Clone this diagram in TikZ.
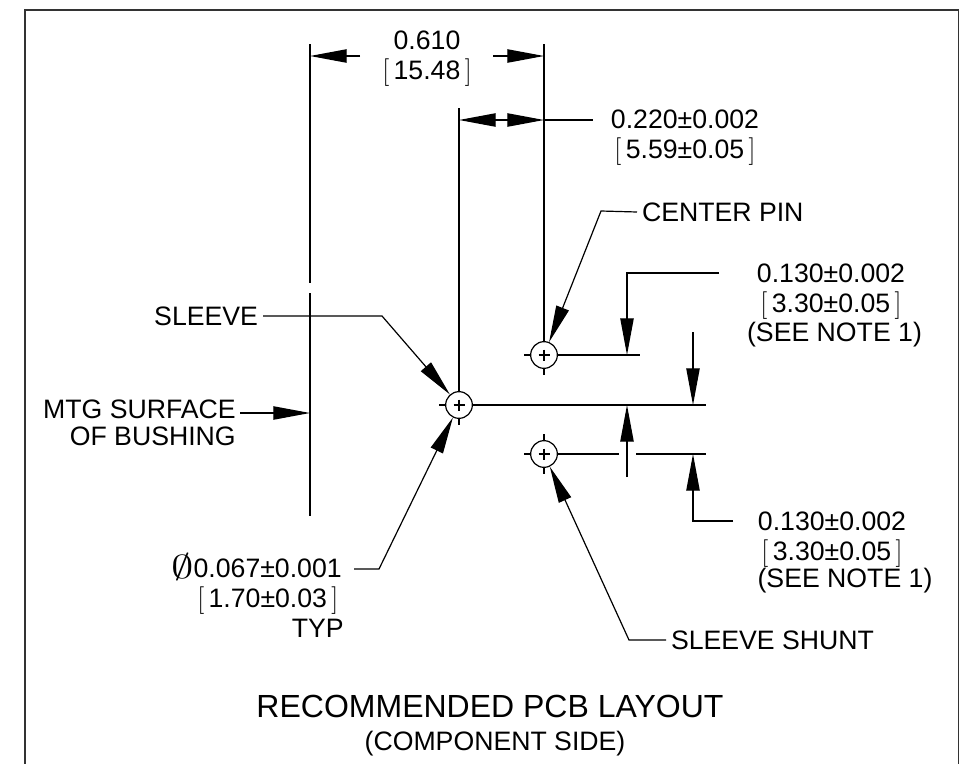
\documentclass[tikz,border=0pt]{standalone}
\usepackage{fontspec}
\setmainfont{Liberation Sans}
\usetikzlibrary{arrows.meta}
\tikzset{
	dimtext/.style={inner sep=0pt,align=center,font=\fontsize{20}{22.5}\selectfont},
	leadertext/.style={dimtext,outer xsep=3.75pt},
	thinline/.style={line width=0.9pt},
	thickline/.style={line width=1.9pt},
	hole/.style={draw,circle,line width=0.9pt,minimum size=20pt,inner sep=0pt,fill=white},
	dimtip/.tip={Triangle[length=27.5pt,width=10pt]}
}
\newcommand{\brk}[1]{$[$\,#1\,$]$}
\newcommand{\dia}{\smash{\raisebox{-1pt}{\scalebox{1.35}[1]{\fontsize{26}{26}\selectfont$\emptyset$}}}}
\begin{document}
\begin{tikzpicture}[x=0.75pt,y=-0.75pt]
\useasboundingbox (0,0) rectangle (961,764);
% frame
\coordinate (fbl) at (25,764);
\coordinate (ftl) at (25,10);
\coordinate (ftr) at (958.5,10);
\coordinate (fbr) at (958.5,764);
\draw[line width=1.2pt,black!80] (fbl)--(ftl)--(ftr)--(fbr);
% reference points
\coordinate (extA) at (310,44);
\coordinate (extAb) at (310,283);
\coordinate (surfT) at (310,293);
\coordinate (surfB) at (310,516);
\coordinate (extB) at (544,44);
\coordinate (extBm) at (544,108);
\coordinate (extC) at (459,108);
% holes
\node[hole] (pinhole) at (544,355) {};
\node[hole] (sleevehole) at (459,405) {};
\node[hole] (shunthole) at (544,454) {};
\foreach \h in {pinhole,sleevehole,shunthole}{
	\draw[thinline] (\h.center)+(-5.5,0)--+(5.5,0) (\h.center)+(0,-5.5)--+(0,5.5);
	\draw[thinline] (\h.west)+(-6,0)--(\h.west) (\h.east)--+(6,0);
	\draw[thinline] (\h.north)+(0,-6)--(\h.north) (\h.south)--+(0,6);
}
% texts
\node[dimtext] (overall) at (427,59) {0.610\\\brk{15.48}};
\node[dimtext] (pinoffset) at (685,138) {0.220±0.002\\\brk{5.59±0.05}};
\node[leadertext,anchor=west] (pinlabel) at (637,212) {CENTER PIN};
\node[dimtext] (upperdim) at (831,292) {0.130±0.002\\\brk{3.30±0.05}};
\node[dimtext] (uppernote) at (834.5,335) {(SEE NOTE 1)};
\node[dimtext] (lowerdim) at (832,540) {0.130±0.002\\\brk{3.30±0.05}};
\node[dimtext] (lowernote) at (845,581) {(SEE NOTE 1)};
\node[leadertext,anchor=east] (sleevelabel) at (263,316) {SLEEVE};
\node[dimtext,anchor=east,align=right,font=\fontsize{20}{20.6}\selectfont] (mtglabel) at (236,423) {MTG SURFACE\\OF BUSHING};
\node[dimtext,anchor=east,align=right] (dialabel) at (344,598) {\dia0.067±0.001\kern1.5pt\\\brk{1.70±0.03}\kern4pt\\TYP};
\node[leadertext,anchor=west] (shuntlabel) at (666,640) {SLEEVE SHUNT};
\node[dimtext,font=\fontsize{24}{28}\selectfont] (title) at (490,706.5) {RECOMMENDED PCB LAYOUT};
\node[dimtext] (subtitle) at (495,744) {(COMPONENT SIDE)};
% extension lines
\draw[thinline] (extA)--(extAb);
\draw[thickline] (surfT)--(surfB);
\draw[thinline] (extB)--(extBm);
\draw[thickline] (extBm)--(pinhole.north);
\draw[thinline] (extC)--(sleevehole.north);
% horizontal lines from the holes
\coordinate (pinend) at (640,355);
\coordinate (sleevemid) at (640,405);
\coordinate (sleeveend) at (706,405);
\coordinate (shuntgapa) at (619,454);
\coordinate (shuntgapb) at (636,454);
\coordinate (shuntend) at (706,454);
\draw[thinline] (pinhole.east)--(pinend);
\draw[thickline] (sleevehole.east)--(sleevemid);
\draw[thinline] (sleevemid)--(sleeveend);
\draw[thinline] (shunthole.east)--(shuntgapa) (shuntgapb)--(shuntend);
% 0.610
\coordinate (oa) at (310,56);
\coordinate (oat) at (360,56);
\coordinate (ob) at (544,56);
\coordinate (obt) at (493,56);
\draw[thinline,-dimtip] (oat)--(oa);
\draw[thinline,-dimtip] (obt)--(ob);
% 0.220
\coordinate (pa) at (459,120);
\coordinate (pm) at (501,120);
\coordinate (pb) at (544,120);
\coordinate (pe) at (593,120);
\draw[thinline,-dimtip] (pm)--(pa);
\draw[thinline,-dimtip] (pm)--(pb);
\draw[thinline] (pb)--(pe);
% 0.130 upper
\coordinate (ua) at (719,273);
\coordinate (ub) at (627,273);
\coordinate (uc) at (627,355);
\draw[thinline,-dimtip] (ua)--(ub)--(uc);
\coordinate (ud) at (627,477);
\coordinate (ue) at (627,405);
\draw[thinline,-dimtip] (ud)--(ue);
% 0.130 lower
\coordinate (la) at (693,332);
\coordinate (lb) at (693,405);
\draw[thinline,-dimtip] (la)--(lb);
\coordinate (lc) at (733,521);
\coordinate (ld) at (693,521);
\coordinate (le) at (693,454);
\draw[thinline,-dimtip] (lc)--(ld)--(le);
% leaders
\coordinate (pinbend) at (601,211);
\draw[thinline,-dimtip] (pinlabel.west)--(pinbend)--(pinhole);
\coordinate (sleevebend) at (382,316);
\draw[thinline,-dimtip] (sleevelabel.east)--(sleevebend)--(sleevehole);
\coordinate (mtgstart) at (240,413);
\coordinate (mtgtip) at (310,413);
\draw[thinline,-dimtip] (mtgstart)--(mtgtip);
\coordinate (diabend) at (379,569);
\coordinate (diastart) at (354,569);
\draw[thinline,-dimtip] (diastart)--(diabend)--(sleevehole);
\coordinate (shuntbend) at (629,640);
\draw[thinline,-dimtip] (shuntlabel.west)--(shuntbend)--(shunthole);
\end{tikzpicture}
\end{document}
